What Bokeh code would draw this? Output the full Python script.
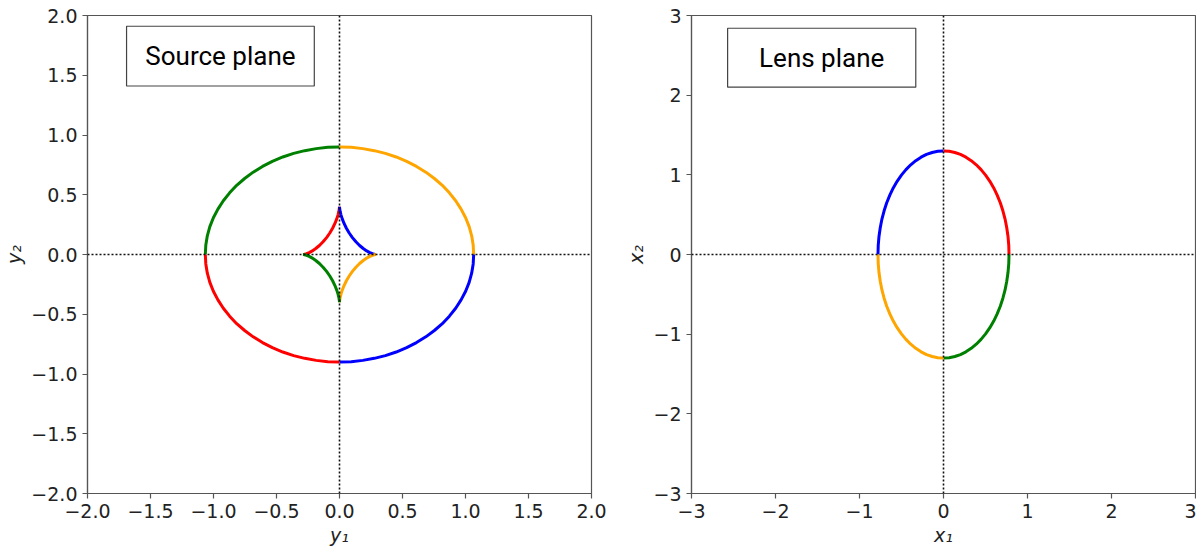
from bokeh.plotting import figure
from bokeh.layouts import row
from bokeh.models import Span, BoxAnnotation, Label, FixedTicker
from bokeh.embed import file_html
from bokeh.resources import INLINE

# ---- data (first-quadrant arcs, mirrored into the other quadrants) ----
# outer caustic (source plane), x from 1.065 -> 0, y from 0 -> 0.9
caustic_x = [1.065, 1.061, 1.049, 1.029, 1.001, 0.965, 0.922, 0.872, 0.816, 0.753,
             0.685, 0.611, 0.533, 0.450, 0.364, 0.276, 0.185, 0.093, 0.0]
caustic_y = [0.0, 0.079, 0.156, 0.233, 0.308, 0.380, 0.450, 0.516, 0.579, 0.636,
             0.689, 0.737, 0.779, 0.816, 0.846, 0.869, 0.886, 0.897, 0.9]
# inner astroid caustic (source plane)
astroid_x = [0.290, 0.2867, 0.2770, 0.2613, 0.2406, 0.2159, 0.1884, 0.1594, 0.1304, 0.1025,
             0.0770, 0.0547, 0.0363, 0.0219, 0.0116, 0.0050, 0.0015, 0.0002, 0.0]
astroid_y = [0.0, 0.0003, 0.0021, 0.0069, 0.0160, 0.0302, 0.0500, 0.0755, 0.1062, 0.1414,
             0.1798, 0.2199, 0.2598, 0.2978, 0.3319, 0.3605, 0.3820, 0.3954, 0.4000]
# critical curve (lens plane)
crit_x = [0.78, 0.777, 0.768, 0.753, 0.733, 0.707, 0.676, 0.639, 0.598, 0.552,
          0.501, 0.447, 0.390, 0.330, 0.267, 0.202, 0.135, 0.068, 0.0]
crit_y = [0.0, 0.113, 0.226, 0.336, 0.445, 0.549, 0.650, 0.746, 0.836, 0.919,
          0.996, 1.065, 1.126, 1.178, 1.222, 1.256, 1.280, 1.295, 1.300]

# quadrant signs and colours
quadrants = [(-1, 1), (1, 1), (1, -1), (-1, -1)]
caustic_colors = ["green", "orange", "blue", "red"]
astroid_colors = ["red", "blue", "orange", "green"]
crit_colors = ["blue", "red", "green", "orange"]

src_ticks = [-2.0, -1.5, -1.0, -0.5, 0.0, 0.5, 1.0, 1.5, 2.0]
src_tick_labels = ["\u22122.0", "\u22121.5", "\u22121.0", "\u22120.5", "0.0", "0.5", "1.0", "1.5", "2.0"]
lens_ticks = [-3, -2, -1, 0, 1, 2, 3]
lens_tick_labels = ["\u22123", "\u22122", "\u22121", "0", "1", "2", "3"]

TICK_FONT = "DejaVu Sans"
FRAME_COLOR = "#555555"
BOX_COLOR = "#444444"


def style(p, ticks, labels, xlabel, ylabel):
    p.grid.visible = False
    p.outline_line_color = FRAME_COLOR
    p.outline_line_width = 1.2
    p.outline_line_alpha = 1
    for ax, lab in ((p.xaxis[0], xlabel), (p.yaxis[0], ylabel)):
        ax.ticker = FixedTicker(ticks=ticks)
        ax.major_label_overrides = {t: l for t, l in zip(ticks, labels)}
        ax.axis_line_color = FRAME_COLOR
        ax.axis_line_width = 1.2
        ax.major_tick_line_color = FRAME_COLOR
        ax.major_tick_line_width = 1.2
        ax.major_tick_out = 5
        ax.major_tick_in = 0
        ax.minor_tick_line_color = None
        ax.major_label_text_font = TICK_FONT
        ax.major_label_text_font_size = "19px"
        ax.major_label_text_color = "#222222"
        ax.major_label_standoff = 5
        ax.axis_label = lab
        ax.axis_label_text_font = TICK_FONT
        ax.axis_label_text_font_size = "19px"
        ax.axis_label_text_font_style = "italic"
        ax.axis_label_text_color = "#222222"
        ax.axis_label_standoff = 3
    p.add_layout(Span(location=0, dimension="width", line_color="#111111",
                      line_dash="2 2", line_width=1.6))
    p.add_layout(Span(location=0, dimension="height", line_color="#111111",
                      line_dash="2 2", line_width=1.6))


# ---- source plane ----
p1 = figure(frame_width=504, frame_height=478, x_range=(-2, 2), y_range=(-2, 2),
            min_border_left=80, min_border_right=31, min_border_top=15, min_border_bottom=46,
            output_backend="svg", toolbar_location=None)
for (sx, sy), c in zip(quadrants, caustic_colors):
    p1.line([sx * v for v in caustic_x], [sy * v for v in caustic_y], line_color=c, line_width=3)
for (sx, sy), c in zip(quadrants, astroid_colors):
    p1.line([sx * v for v in astroid_x], [sy * v for v in astroid_y], line_color=c, line_width=3)
style(p1, src_ticks, src_tick_labels, "y\u2081", "y\u2082")
p1.add_layout(BoxAnnotation(left=-1.69, right=-0.20, top=1.91, bottom=1.41,
                            fill_color="white", fill_alpha=1,
                            line_color=BOX_COLOR, line_alpha=1, line_width=1.2))
p1.add_layout(Label(x=-0.945, y=1.66, text="Source plane", text_align="center",
                    text_baseline="middle", text_font="Roboto", text_font_size="26px",
                    text_color="black"))

# ---- lens plane ----
p2 = figure(frame_width=504, frame_height=478, x_range=(-3, 3), y_range=(-3, 3),
            min_border_left=60, min_border_right=1, min_border_top=15, min_border_bottom=46,
            output_backend="svg", toolbar_location=None)
for (sx, sy), c in zip(quadrants, crit_colors):
    p2.line([sx * v for v in crit_x], [sy * v for v in crit_y], line_color=c, line_width=3)
style(p2, lens_ticks, lens_tick_labels, "x\u2081", "x\u2082")
p2.add_layout(BoxAnnotation(left=-2.57, right=-0.33, top=2.84, bottom=2.10,
                            fill_color="white", fill_alpha=1,
                            line_color=BOX_COLOR, line_alpha=1, line_width=1.2))
p2.add_layout(Label(x=-1.45, y=2.47, text="Lens plane", text_align="center",
                    text_baseline="middle", text_font="Roboto", text_font_size="26px",
                    text_color="black"))

layout = row(p1, p2)
open("out.html", "w").write(file_html(layout, INLINE))
